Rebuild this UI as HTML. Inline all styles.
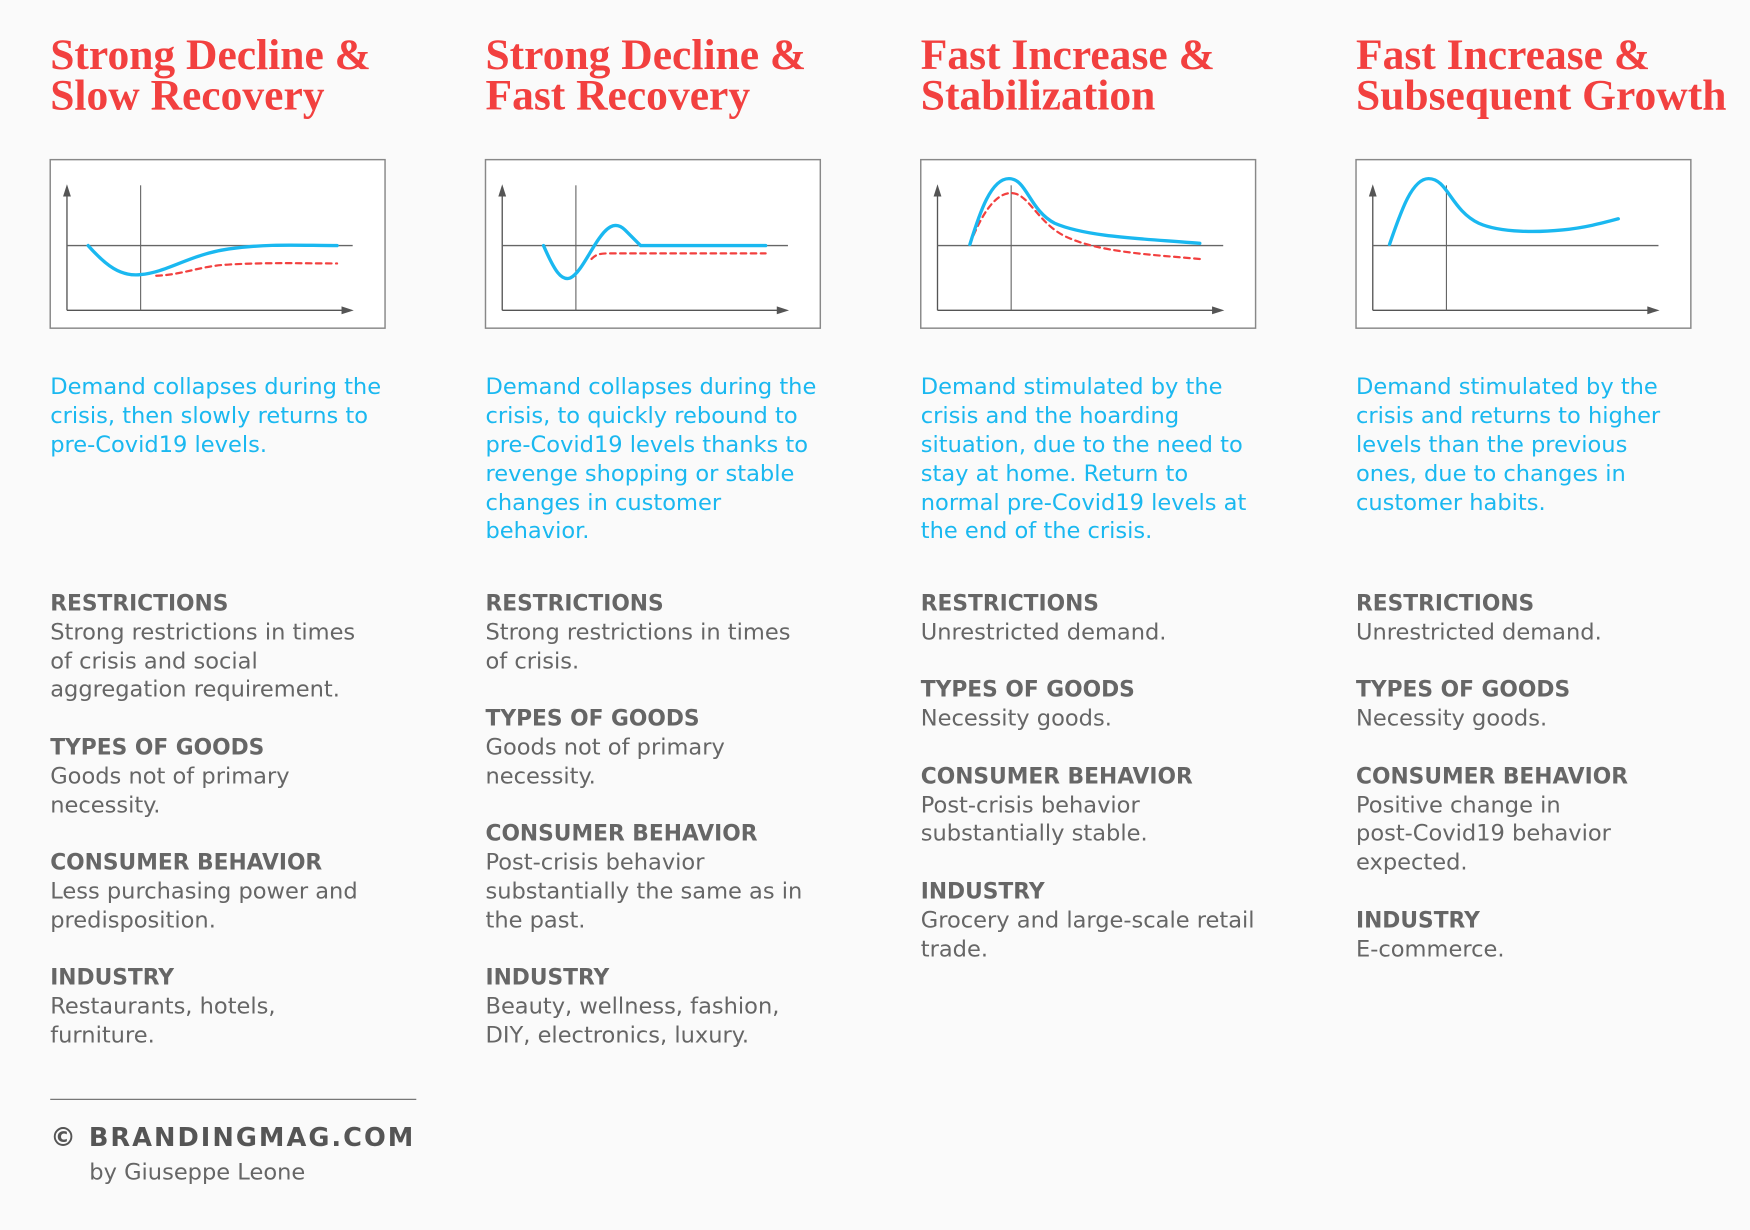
<!DOCTYPE html>
<html><head><meta charset="utf-8"><style>
html,body{margin:0;padding:0;background:#fafafa;}
svg{display:block}
.t{font-family:"Liberation Serif",serif;font-weight:bold;font-size:39px;fill:#f2403f}
.b{font-family:"DejaVu Sans","Liberation Sans",sans-serif;font-size:20.2px;fill:#1ab8f0}
.h{font-family:"DejaVu Sans","Liberation Sans",sans-serif;font-size:19.5px;font-weight:bold;fill:#666}
.p{font-family:"DejaVu Sans","Liberation Sans",sans-serif;font-size:20.2px;fill:#666}
</style></head><body>
<svg width="1750" height="1230" viewBox="0 0 1568 1102" xmlns="http://www.w3.org/2000/svg">
<defs>
<g id="frame">
<rect x="45" y="143" width="300" height="151" fill="#fff" stroke="#888" stroke-width="1.3"/>
<line x1="60" y1="172" x2="60" y2="278" stroke="#555" stroke-width="1.2"/>
<line x1="60" y1="278" x2="310" y2="278" stroke="#555" stroke-width="1.2"/>
<line x1="60" y1="220" x2="316" y2="220" stroke="#666" stroke-width="1.2"/>
<line x1="126" y1="166" x2="126" y2="278" stroke="#666" stroke-width="1"/>
<polygon points="60,165 56.5,176 63.5,176" fill="#555"/>
<polygon points="317,278 306,274.5 306,281.5" fill="#555"/>
</g>
</defs>
<rect width="1568" height="1102" fill="#fafafa"/>

<text class="t" x="45" y="62">Strong Decline &amp;</text>
<text class="t" x="45" y="98">Slow Recovery</text>
<text class="t" x="435" y="62">Strong Decline &amp;</text>
<text class="t" x="435" y="98">Fast Recovery</text>
<text class="t" x="825" y="62">Fast Increase &amp;</text>
<text class="t" x="825" y="98">Stabilization</text>
<text class="t" x="1215" y="62">Fast Increase &amp;</text>
<text class="t" x="1215" y="98">Subsequent Growth</text>

<use href="#frame"/>
<use href="#frame" x="390"/>
<use href="#frame" x="780"/>
<use href="#frame" x="1170"/>

<g fill="none" stroke-linecap="round">
<path d="M140,247 C165,246 180,238 205,237 C240,235 270,236 302,236" stroke="#f2403f" stroke-width="2" stroke-dasharray="5,4"/>
<path d="M79,220 C95,238 108,248 126,246 C150,244 170,228 205,223 C240,218 270,220 302,220" stroke="#1ab8f0" stroke-width="3"/>
<path d="M530,232 C534,228 537,227 545,227 L686,227" stroke="#f2403f" stroke-width="2" stroke-dasharray="5,4"/>
<path d="M487,220 C497,243 503,252 511,249 C520,245 530,222 538,212 C546,201 553,199 560,206 L574,220 L686,220" stroke="#1ab8f0" stroke-width="3"/>
<path d="M869,219 C880,190 893,172 907,173 C922,174 930,200 955,212 C985,226 1030,228 1075,232" stroke="#f2403f" stroke-width="2" stroke-dasharray="5,4"/>
<path d="M869,219 C878,190 888,160 904,160 C920,160 922,188 945,200 C975,213 1030,214 1075,218" stroke="#1ab8f0" stroke-width="3"/>
<path d="M1245,219 C1255,190 1265,160 1280,160 C1297,160 1300,188 1325,200 C1345,209 1380,208 1400,206 C1420,204 1435,200 1450,196" stroke="#1ab8f0" stroke-width="3"/>
</g>

<g class="b">
<text x="45" y="353">Demand collapses during the</text>
<text x="45" y="379">crisis, then slowly returns to</text>
<text x="45" y="405">pre-Covid19 levels.</text>

<text x="435" y="353">Demand collapses during the</text>
<text x="435" y="379">crisis, to quickly rebound to</text>
<text x="435" y="405">pre-Covid19 levels thanks to</text>
<text x="435" y="431">revenge shopping or stable</text>
<text x="435" y="457">changes in customer</text>
<text x="435" y="482">behavior.</text>

<text x="825" y="353">Demand stimulated by the</text>
<text x="825" y="379">crisis and the hoarding</text>
<text x="825" y="405">situation, due to the need to</text>
<text x="825" y="431">stay at home. Return to</text>
<text x="825" y="457">normal pre-Covid19 levels at</text>
<text x="825" y="482">the end of the crisis.</text>

<text x="1215" y="353">Demand stimulated by the</text>
<text x="1215" y="379">crisis and returns to higher</text>
<text x="1215" y="405">levels than the previous</text>
<text x="1215" y="431">ones, due to changes in</text>
<text x="1215" y="457">customer habits.</text>
</g>

<text class="h" x="45" y="547">RESTRICTIONS</text>
<text class="p" x="45" y="573">Strong restrictions in times</text>
<text class="p" x="45" y="599">of crisis and social</text>
<text class="p" x="45" y="624">aggregation requirement.</text>
<text class="h" x="45" y="676">TYPES OF GOODS</text>
<text class="p" x="45" y="702">Goods not of primary</text>
<text class="p" x="45" y="728">necessity.</text>
<text class="h" x="45" y="779">CONSUMER BEHAVIOR</text>
<text class="p" x="45" y="805">Less purchasing power and</text>
<text class="p" x="45" y="831">predisposition.</text>
<text class="h" x="45" y="882">INDUSTRY</text>
<text class="p" x="45" y="908">Restaurants, hotels,</text>
<text class="p" x="45" y="934">furniture.</text>

<text class="h" x="435" y="547">RESTRICTIONS</text>
<text class="p" x="435" y="573">Strong restrictions in times</text>
<text class="p" x="435" y="599">of crisis.</text>
<text class="h" x="435" y="650">TYPES OF GOODS</text>
<text class="p" x="435" y="676">Goods not of primary</text>
<text class="p" x="435" y="702">necessity.</text>
<text class="h" x="435" y="753">CONSUMER BEHAVIOR</text>
<text class="p" x="435" y="779">Post-crisis behavior</text>
<text class="p" x="435" y="805">substantially the same as in</text>
<text class="p" x="435" y="831">the past.</text>
<text class="h" x="435" y="882">INDUSTRY</text>
<text class="p" x="435" y="908">Beauty, wellness, fashion,</text>
<text class="p" x="435" y="934">DIY, electronics, luxury.</text>

<text class="h" x="825" y="547">RESTRICTIONS</text>
<text class="p" x="825" y="573">Unrestricted demand.</text>
<text class="h" x="825" y="624">TYPES OF GOODS</text>
<text class="p" x="825" y="650">Necessity goods.</text>
<text class="h" x="825" y="702">CONSUMER BEHAVIOR</text>
<text class="p" x="825" y="728">Post-crisis behavior</text>
<text class="p" x="825" y="753">substantially stable.</text>
<text class="h" x="825" y="805">INDUSTRY</text>
<text class="p" x="825" y="831">Grocery and large-scale retail</text>
<text class="p" x="825" y="857">trade.</text>

<text class="h" x="1215" y="547">RESTRICTIONS</text>
<text class="p" x="1215" y="573">Unrestricted demand.</text>
<text class="h" x="1215" y="624">TYPES OF GOODS</text>
<text class="p" x="1215" y="650">Necessity goods.</text>
<text class="h" x="1215" y="702">CONSUMER BEHAVIOR</text>
<text class="p" x="1215" y="728">Positive change in</text>
<text class="p" x="1215" y="753">post-Covid19 behavior</text>
<text class="p" x="1215" y="779">expected.</text>
<text class="h" x="1215" y="831">INDUSTRY</text>
<text class="p" x="1215" y="857">E-commerce.</text>

<line x1="45" y1="985" x2="373" y2="985" stroke="#777" stroke-width="1.2"/>
<text x="45" y="1027" style="font-family:'DejaVu Sans','Liberation Sans',sans-serif;font-weight:bold;font-size:23px;fill:#555;letter-spacing:1.8px">© BRANDINGMAG.COM</text>
<text class="p" x="80" y="1057">by Giuseppe Leone</text>
</svg>
</body></html>
